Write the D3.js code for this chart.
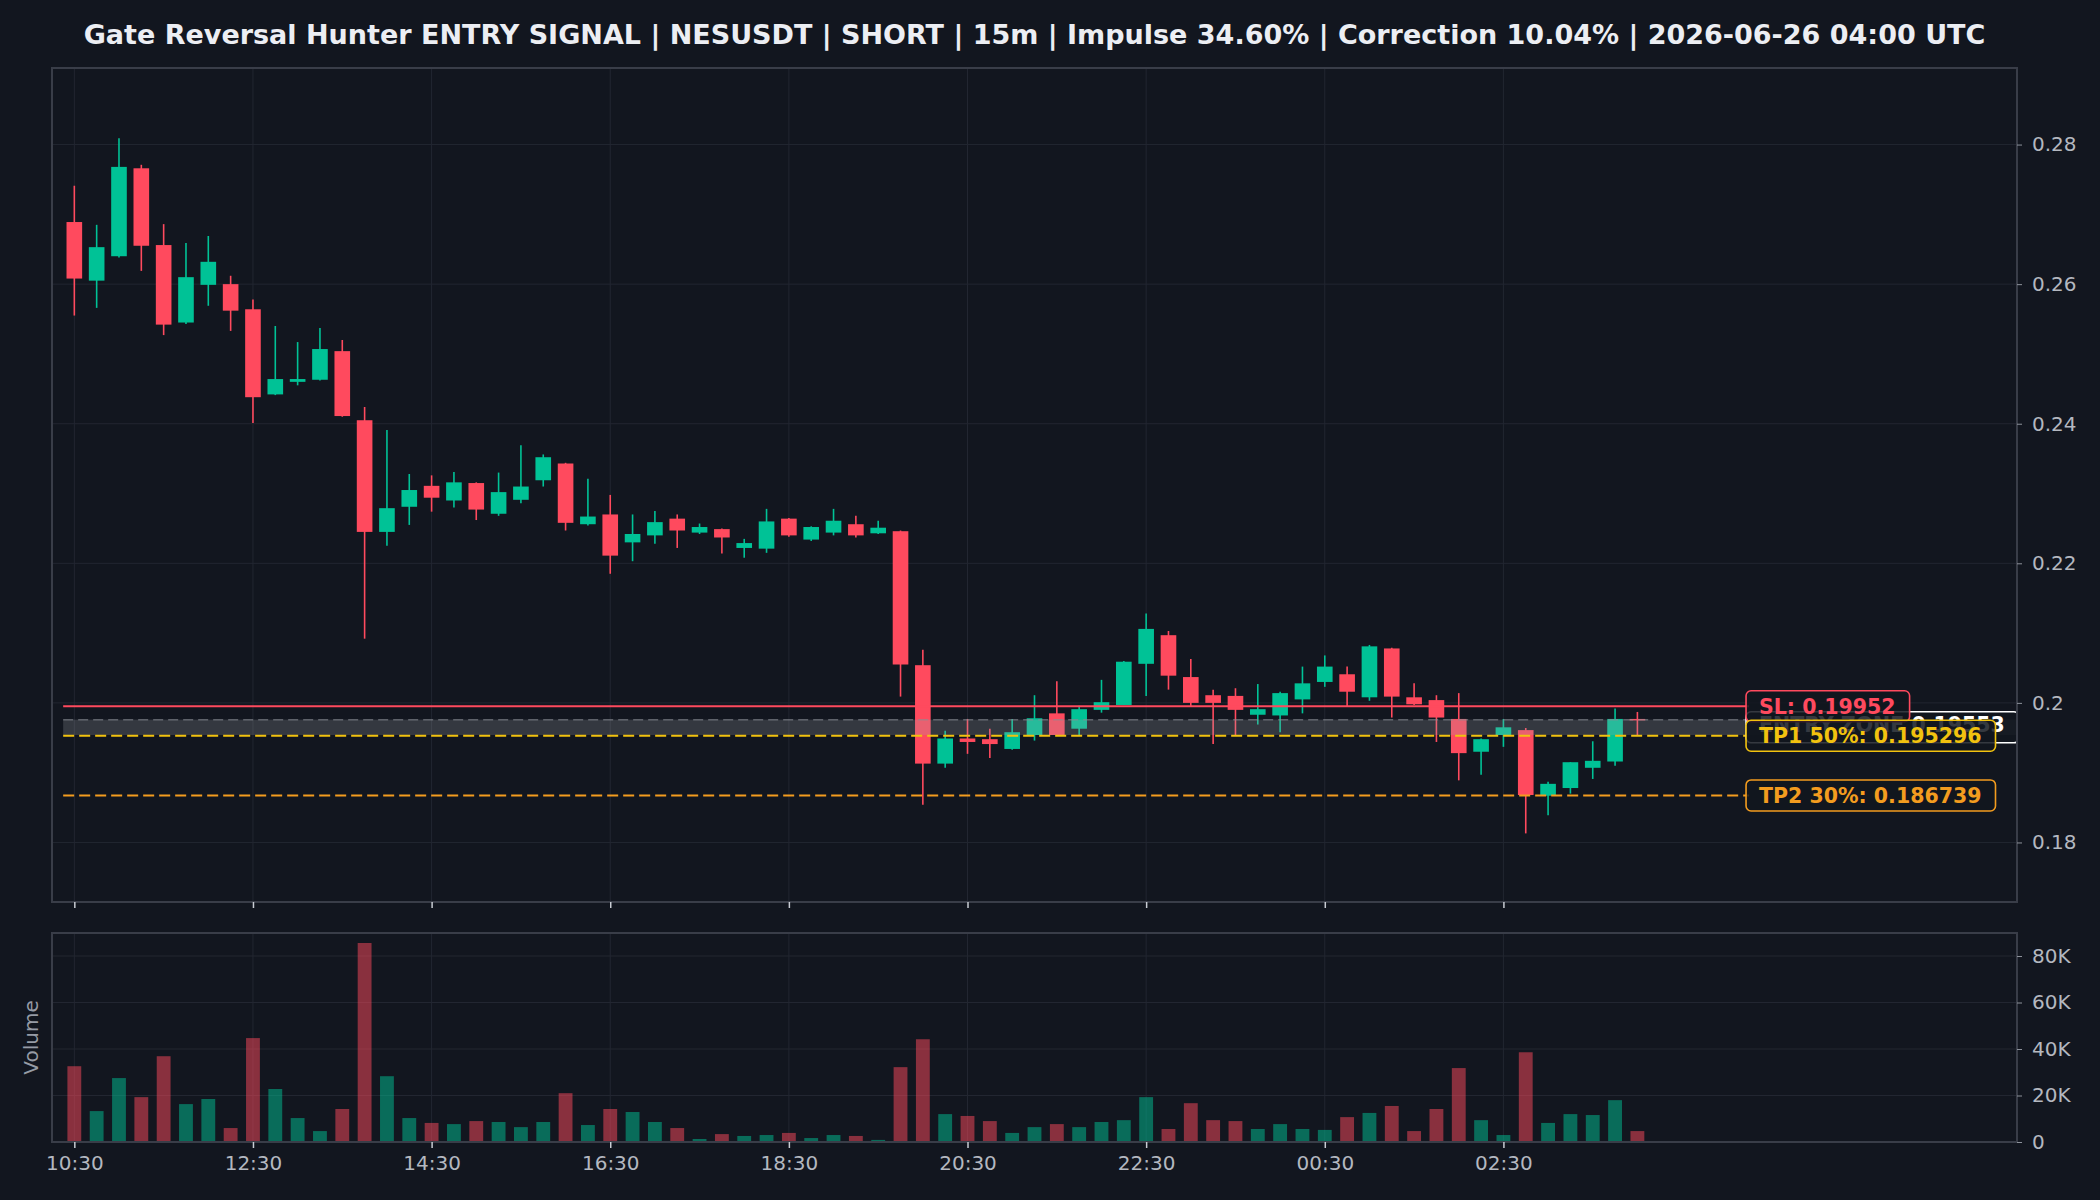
<!DOCTYPE html>
<html>
<head>
<meta charset="utf-8">
<script src="https://cdn.jsdelivr.net/npm/d3@7"></script>
<style>
    html, body { margin: 0; padding: 0; background: #12161f; }
    svg { display: block; }
    text { font-family: "DejaVu Sans", sans-serif; }
</style>
</head>
<body>
<svg id="chart" width="2100" height="1200"></svg>
<script>
// Candle data (15m, starting 10:30 UTC)
const opens = [0.2689, 0.2605, 0.2640, 0.2766, 0.2656, 0.2545, 0.2599, 0.2600, 0.2564, 0.2442,
    0.2460, 0.2463, 0.2504, 0.2405, 0.2245, 0.2281, 0.2311, 0.2290, 0.2315, 0.2271,
    0.2291, 0.2319, 0.2343, 0.2256, 0.2270, 0.2230, 0.2240, 0.2264, 0.2244, 0.2249,
    0.2222, 0.2221, 0.2264, 0.2234, 0.2244, 0.2256, 0.2243, 0.2246, 0.2054, 0.1913,
    0.1949, 0.1948, 0.1934, 0.1954, 0.1985, 0.1963, 0.1990, 0.1997, 0.2056, 0.2097,
    0.2037, 0.2011, 0.2010, 0.1983, 0.1982, 0.2005, 0.2030, 0.2041, 0.2008, 0.2078,
    0.2008, 0.2004, 0.1977, 0.1930, 0.1954, 0.1961, 0.1867, 0.1878, 0.1907, 0.1916,
    0.1977];
const highs = [0.2741, 0.2685, 0.2809, 0.2771, 0.2686, 0.2659, 0.2669, 0.2612, 0.2578, 0.2540,
    0.2517, 0.2537, 0.2520, 0.2424, 0.2391, 0.2328, 0.2326, 0.2331, 0.2316, 0.2330,
    0.2369, 0.2356, 0.2344, 0.2321, 0.2298, 0.2270, 0.2275, 0.2270, 0.2257, 0.2250,
    0.2235, 0.2278, 0.2265, 0.2253, 0.2278, 0.2268, 0.2261, 0.2247, 0.2076, 0.1960,
    0.1977, 0.1963, 0.1977, 0.2011, 0.2031, 0.1996, 0.2033, 0.2060, 0.2128, 0.2103,
    0.2063, 0.2019, 0.2021, 0.2027, 0.2016, 0.2052, 0.2068, 0.2052, 0.2083, 0.2079,
    0.2028, 0.2011, 0.2014, 0.1949, 0.1977, 0.1964, 0.1887, 0.1915, 0.1945, 0.1992,
    0.1987];
const lows = [0.2555, 0.2566, 0.2638, 0.2619, 0.2527, 0.2543, 0.2569, 0.2533, 0.2401, 0.2441,
    0.2455, 0.2462, 0.2410, 0.2092, 0.2225, 0.2255, 0.2274, 0.2280, 0.2262, 0.2268,
    0.2286, 0.2310, 0.2247, 0.2254, 0.2185, 0.2203, 0.2228, 0.2222, 0.2242, 0.2214,
    0.2208, 0.2215, 0.2238, 0.2232, 0.2240, 0.2237, 0.2242, 0.2009, 0.1854, 0.1907,
    0.1927, 0.1921, 0.1933, 0.1946, 0.1953, 0.1954, 0.1986, 0.1997, 0.2010, 0.2019,
    0.1995, 0.1941, 0.1953, 0.1969, 0.1958, 0.1985, 0.2023, 0.1995, 0.2003, 0.1979,
    0.1997, 0.1944, 0.1889, 0.1897, 0.1937, 0.1813, 0.1839, 0.1870, 0.1891, 0.1910,
    0.1953];
const closes = [0.2608, 0.2653, 0.2768, 0.2655, 0.2542, 0.2610, 0.2632, 0.2562, 0.2438, 0.2464,
    0.2464, 0.2507, 0.2411, 0.2245, 0.2279, 0.2305, 0.2294, 0.2316, 0.2277, 0.2302,
    0.2310, 0.2352, 0.2258, 0.2267, 0.2211, 0.2242, 0.2259, 0.2247, 0.2252, 0.2237,
    0.2229, 0.2260, 0.2240, 0.2252, 0.2261, 0.2240, 0.2251, 0.2055, 0.1913, 0.1949,
    0.1944, 0.1941, 0.1958, 0.1978, 0.1954, 0.1991, 0.2001, 0.2059, 0.2106, 0.2039,
    0.2000, 0.2000, 0.1990, 0.1991, 0.2014, 0.2028, 0.2052, 0.2016, 0.2081, 0.2009,
    0.1998, 0.1979, 0.1928, 0.1948, 0.1965, 0.1868, 0.1884, 0.1915, 0.1917, 0.1977,
    0.1975];
const volumes = [32600, 13300, 27500, 19300, 36900, 16300, 18500, 6000, 44700, 22800,
    10300, 4700, 14200, 85600, 28300, 10300, 8200, 7700, 9000, 8600,
    6400, 8600, 21000, 7300, 14200, 12900, 8600, 6000, 1300, 3400,
    2600, 3000, 3900, 1700, 3000, 2600, 900, 32200, 44200, 12000,
    11200, 9000, 3900, 6400, 7700, 6400, 8600, 9400, 19300, 5600,
    16700, 9400, 9000, 5600, 7700, 5600, 5200, 10700, 12500, 15500,
    4700, 14200, 31800, 9400, 3000, 38600, 8200, 12000, 11600, 18000,
    4700];

// Axis ticks
const xTickCandles = [0, 8, 16, 24, 32, 40, 48, 56, 64];
const xTickLabels = ["10:30", "12:30", "14:30", "16:30", "18:30", "20:30", "22:30", "00:30", "02:30"];
const priceTicks = [0.18, 0.20, 0.22, 0.24, 0.26, 0.28];
const volumeTicks = [0, 20000, 40000, 60000, 80000];

// Trade levels
const slPrice = 0.19952;
const tp1Price = 0.195296;
const tp2Price = 0.186739;
const entryLow = 0.19540;
const entryHigh = 0.19760;
const entryLabel = "ENTRY ZONE  0.19553";
const levelLabels = ["SL: 0.19952", "TP1 50%: 0.195296", "TP2 30%: 0.186739"];

const titleText = "Gate Reversal Hunter ENTRY SIGNAL | NESUSDT | SHORT | 15m | Impulse 34.60% | Correction 10.04% | 2026-06-26 04:00 UTC";

// Colors
const bg = "#12161f";
const upColor = "#00c296";
const downColor = "#ff4a5e";
const gridColor = "#222631";
const frameColor = "#393d48";
const tickTextColor = "#b4b8c0";

const dims = {
    left: 52, right: 2017,
    priceTop: 68, priceBottom: 902,
    volTop: 933, volBottom: 1142,
};

const svg = d3.select("#chart");
svg.append("rect").attr("width", 2100).attr("height", 1200).attr("fill", bg);

const xScale = d3.scaleLinear().domain([-1, 87]).range([dims.left, dims.right]);
const yScale = d3.scaleLinear().domain([0.17147, 0.29097]).range([dims.priceBottom, dims.priceTop]);
const vScale = d3.scaleLinear().domain([0, 89900]).range([dims.volBottom, dims.volTop]);

const step = xScale(1) - xScale(0);
const candles = opens.map((o, i) => ({ i, o, h: highs[i], l: lows[i], c: closes[i], v: volumes[i] }));
const colorOf = d => d.c >= d.o ? upColor : downColor;

// Title
svg.append("text")
    .attr("x", (dims.left + dims.right) / 2)
    .attr("y", 44)
    .attr("text-anchor", "middle")
    .attr("fill", "#eceef3")
    .attr("font-size", 27)
    .attr("font-weight", "bold")
    .text(titleText);

// Clip paths
const defs = svg.append("defs");
defs.append("clipPath").attr("id", "clipPrice").append("rect")
    .attr("x", dims.left).attr("y", dims.priceTop)
    .attr("width", dims.right - dims.left).attr("height", dims.priceBottom - dims.priceTop);

// ---- Price panel ----
const pricePanel = svg.append("g");

// grid
pricePanel.append("g").selectAll("line").data(xTickCandles).join("line")
    .attr("x1", d => xScale(d)).attr("x2", d => xScale(d))
    .attr("y1", dims.priceTop).attr("y2", dims.priceBottom)
    .attr("stroke", gridColor).attr("stroke-width", 1);
pricePanel.append("g").selectAll("line").data(priceTicks).join("line")
    .attr("x1", dims.left).attr("x2", dims.right)
    .attr("y1", d => yScale(d)).attr("y2", d => yScale(d))
    .attr("stroke", gridColor).attr("stroke-width", 1);

const plotArea = pricePanel.append("g").attr("clip-path", "url(#clipPrice)");

// wicks
plotArea.append("g").selectAll("line").data(candles).join("line")
    .attr("x1", d => xScale(d.i)).attr("x2", d => xScale(d.i))
    .attr("y1", d => yScale(d.h)).attr("y2", d => yScale(d.l))
    .attr("stroke", colorOf).attr("stroke-width", 1.6);

// bodies
plotArea.append("g").selectAll("rect").data(candles).join("rect")
    .attr("x", d => xScale(d.i) - step * 0.35)
    .attr("width", step * 0.7)
    .attr("y", d => yScale(Math.max(d.o, d.c)))
    .attr("height", d => Math.max(1.5, Math.abs(yScale(d.o) - yScale(d.c))))
    .attr("fill", colorOf);

// entry zone band
const levelStart = -0.5;
const labelX = 75;
plotArea.append("rect")
    .attr("x", xScale(levelStart))
    .attr("width", xScale(87) - xScale(levelStart))
    .attr("y", yScale(entryHigh))
    .attr("height", yScale(entryLow) - yScale(entryHigh))
    .attr("fill", "#a4a6ab").attr("opacity", 0.24);
plotArea.append("line")
    .attr("x1", xScale(levelStart)).attr("x2", xScale(labelX))
    .attr("y1", yScale(entryHigh)).attr("y2", yScale(entryHigh))
    .attr("stroke", "#8a8d94").attr("stroke-width", 1.5)
    .attr("stroke-dasharray", "10,5").attr("opacity", 0.6);

// SL / TP lines
plotArea.append("line")
    .attr("x1", xScale(levelStart)).attr("x2", xScale(labelX))
    .attr("y1", yScale(slPrice)).attr("y2", yScale(slPrice))
    .attr("stroke", downColor).attr("stroke-width", 2);
plotArea.append("line")
    .attr("x1", xScale(levelStart)).attr("x2", xScale(labelX))
    .attr("y1", yScale(tp1Price)).attr("y2", yScale(tp1Price))
    .attr("stroke", "#f2c20f").attr("stroke-width", 2)
    .attr("stroke-dasharray", "11,5");
plotArea.append("line")
    .attr("x1", xScale(levelStart)).attr("x2", xScale(labelX))
    .attr("y1", yScale(tp2Price)).attr("y2", yScale(tp2Price))
    .attr("stroke", "#f39c1f").attr("stroke-width", 2)
    .attr("stroke-dasharray", "11,5");

// level labels with boxes
function addLabel(parent, price, text, color, textColor, baseShift) {
    const g = parent.append("g");
    const boxX = xScale(labelX) - 3;
    const cy = yScale(price);
    const rect = g.append("rect");
    const t = g.append("text")
        .attr("x", boxX + 13)
        .attr("y", cy + baseShift)
        .attr("fill", textColor)
        .attr("font-size", 20.5)
        .attr("font-weight", "bold")
        .text(text);
    const w = t.node().getComputedTextLength();
    rect.attr("x", boxX).attr("y", cy - 15.5)
        .attr("width", w + 27).attr("height", 31)
        .attr("rx", 5).attr("ry", 5)
        .attr("fill", bg).attr("fill-opacity", 0.85)
        .attr("stroke", color).attr("stroke-width", 1.6);
}

addLabel(plotArea, (entryLow + entryHigh) / 2, entryLabel, "#ffffff", "#ffffff", 4.5);
addLabel(pricePanel, slPrice, levelLabels[0], downColor, downColor, 7.5);
addLabel(pricePanel, tp1Price, levelLabels[1], "#f2c20f", "#f2c20f", 7.5);
addLabel(pricePanel, tp2Price, levelLabels[2], "#f39c1f", "#f39c1f", 7.5);

// frame
pricePanel.append("rect")
    .attr("x", dims.left).attr("y", dims.priceTop)
    .attr("width", dims.right - dims.left).attr("height", dims.priceBottom - dims.priceTop)
    .attr("fill", "none").attr("stroke", frameColor).attr("stroke-width", 2);

// price axis (right)
const yAxis = pricePanel.append("g")
    .attr("transform", `translate(${dims.right},0)`)
    .call(d3.axisRight(yScale).tickValues(priceTicks).tickSize(5).tickPadding(10)
        .tickFormat(d => String(+d.toFixed(2))));
yAxis.select(".domain").remove();
yAxis.selectAll("line").attr("stroke", "#8d929b");
yAxis.selectAll("text").attr("fill", tickTextColor).attr("font-size", 20)
    .attr("font-family", "DejaVu Sans");

// bottom tick marks of price panel (no labels)
const xAxisTop = pricePanel.append("g")
    .attr("transform", `translate(0,${dims.priceBottom})`)
    .call(d3.axisBottom(xScale).tickValues(xTickCandles).tickSize(6).tickFormat(""));
xAxisTop.select(".domain").remove();
xAxisTop.selectAll("line").attr("stroke", "#c8ccd3").attr("stroke-width", 1.5);

// ---- Volume panel ----
const volPanel = svg.append("g");

volPanel.append("g").selectAll("line").data(xTickCandles).join("line")
    .attr("x1", d => xScale(d)).attr("x2", d => xScale(d))
    .attr("y1", dims.volTop).attr("y2", dims.volBottom)
    .attr("stroke", gridColor).attr("stroke-width", 1);
volPanel.append("g").selectAll("line").data(volumeTicks).join("line")
    .attr("x1", dims.left).attr("x2", dims.right)
    .attr("y1", d => vScale(d)).attr("y2", d => vScale(d))
    .attr("stroke", gridColor).attr("stroke-width", 1);

volPanel.append("g").selectAll("rect").data(candles).join("rect")
    .attr("x", d => xScale(d.i) - step * 0.31)
    .attr("width", step * 0.62)
    .attr("y", d => vScale(d.v))
    .attr("height", d => vScale(0) - vScale(d.v))
    .attr("fill", colorOf)
    .attr("fill-opacity", 0.5);

volPanel.append("rect")
    .attr("x", dims.left).attr("y", dims.volTop)
    .attr("width", dims.right - dims.left).attr("height", dims.volBottom - dims.volTop)
    .attr("fill", "none").attr("stroke", frameColor).attr("stroke-width", 2);

const vAxis = volPanel.append("g")
    .attr("transform", `translate(${dims.right},0)`)
    .call(d3.axisRight(vScale).tickValues(volumeTicks).tickSize(5).tickPadding(10)
        .tickFormat(d => d === 0 ? "0" : (d / 1000) + "K"));
vAxis.select(".domain").remove();
vAxis.selectAll("line").attr("stroke", "#8d929b");
vAxis.selectAll("text").attr("fill", tickTextColor).attr("font-size", 20)
    .attr("font-family", "DejaVu Sans");

const xAxis = volPanel.append("g")
    .attr("transform", `translate(0,${dims.volBottom})`)
    .call(d3.axisBottom(xScale).tickValues(xTickCandles).tickSize(6).tickPadding(8)
        .tickFormat((d, i) => xTickLabels[i]));
xAxis.select(".domain").remove();
xAxis.selectAll("line").attr("stroke", "#c8ccd3").attr("stroke-width", 1.5);
xAxis.selectAll("text").attr("fill", tickTextColor).attr("font-size", 20)
    .attr("font-family", "DejaVu Sans");

volPanel.append("text")
    .attr("transform", `translate(38,${(dims.volTop + dims.volBottom) / 2}) rotate(-90)`)
    .attr("text-anchor", "middle")
    .attr("fill", "#969ba5")
    .attr("font-size", 20)
    .text("Volume");
</script>
</body>
</html>
